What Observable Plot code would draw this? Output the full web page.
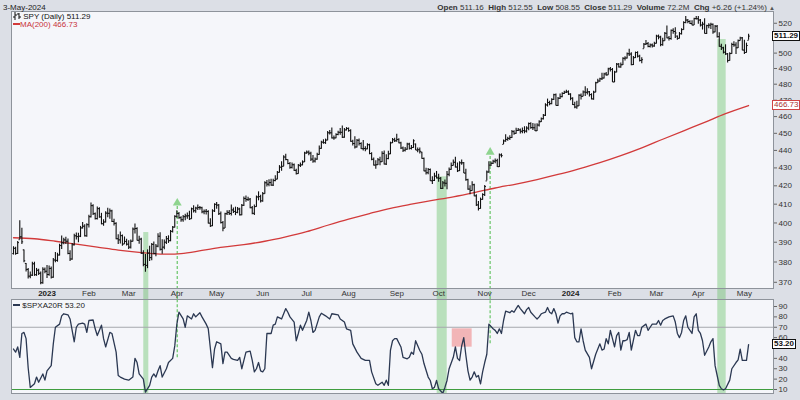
<!DOCTYPE html>
<html><head><meta charset="utf-8">
<script src="https://cdn.jsdelivr.net/npm/d3@7"></script>
<script src="https://cdn.jsdelivr.net/npm/@observablehq/plot@0.6"></script>
<style>
html,body{margin:0;padding:0;background:#dcdfe6;}
#wrap{position:relative;width:800px;height:400px;overflow:hidden;background:#dcdfe6;font-family:"Liberation Sans",Arial,sans-serif;color:#222;}
#wrap svg.p{position:absolute;left:0;overflow:visible;}
.t{position:absolute;white-space:nowrap;font-size:8px;line-height:9px;}
.box{position:absolute;font-size:8px;line-height:8px;height:8px;padding:0 1px;background:#fff;white-space:nowrap;}
</style></head><body><div id="wrap"></div><script>
// ---------- DATA ----------
// trading days per month, Dec 2022 (from the 8th) through 3-May-2024
const monthDays   = [16,20,19,23,19,22,21,20,23,20,22,21,20,21,20,20,22,3];
const monthLabels = ["","2023","Feb","Mar","Apr","May","Jun","Jul","Aug","Sep","Oct","Nov","Dec","2024","Feb","Mar","Apr","May"];

// SPY daily close (dividend-adjusted, log chart)
const closeVals = [
386.9,384.3,389.8,392.8,390.2,380.6,376.3,373.0,373.5,379.1,373.7,375.9,374.4,369.8,376.4,375.4,
373.8,376.8,372.5,381.0,380.8,383.5,388.3,389.7,391.2,390.5,384.3,381.5,388.7,393.3,392.9,393.1,397.4,398.3,393.3,399.1,
403.3,409.2,404.9,402.3,407.6,403.2,399.6,400.5,405.2,405.1,406.4,400.8,399.8,391.8,391.2,393.4,389.1,390.4,389.0,
387.5,390.5,396.8,397.1,391.0,391.6,384.4,378.8,378.3,384.5,382.2,388.9,384.3,388.0,393.1,386.4,387.5,390.0,391.8,390.8,395.6,397.8,403.5,
405.0,402.8,401.7,403.3,403.7,403.8,402.2,407.5,406.5,407.9,408.2,408.1,405.9,406.2,406.1,399.9,398.5,406.4,409.9,
409.5,404.9,400.2,397.3,404.9,405.6,405.0,406.9,406.1,405.6,407.4,404.3,409.4,413.1,412.5,412.7,408.1,405.1,408.7,413.9,414.1,411.8,
415.7,421.7,420.9,421.8,420.4,422.9,423.7,427.5,430.4,430.9,436.2,434.8,432.5,430.3,431.8,428.6,426.8,431.5,431.7,433.4,438.5,
439.0,438.4,435.0,433.9,435.0,437.7,441.2,444.8,444.5,446.0,450.3,450.3,447.3,447.3,449.3,450.6,450.6,447.7,452.0,452.9,
451.6,445.3,444.0,442.0,445.9,444.0,441.0,441.1,440.9,443.3,438.2,434.9,431.6,431.8,434.6,433.5,438.3,432.2,435.3,438.0,444.4,446.2,445.6,
446.4,444.4,441.4,440.1,440.7,443.7,441.2,441.7,445.6,440.2,440.4,439.5,435.4,428.3,427.3,429.1,422.8,423.0,425.4,424.4,
424.2,418.6,421.6,421.4,426.4,429.2,431.4,433.2,430.5,428.4,432.9,432.9,427.1,423.4,418.2,417.4,420.6,414.5,409.6,407.7,412.6,415.2,
419.6,427.7,431.6,432.6,433.8,434.1,430.7,437.4,437.0,445.5,446.4,447.0,447.5,451.0,450.0,451.7,452.0,451.2,451.6,451.3,453.1,
455.8,453.4,453.3,451.5,454.9,456.9,458.7,460.8,467.1,468.6,467.9,470.5,473.4,466.8,471.2,472.2,474.2,475.0,475.2,473.8,
471.2,467.3,465.8,466.5,473.1,472.4,475.1,474.9,475.2,473.5,470.8,475.0,480.9,482.0,483.4,483.9,486.5,485.9,489.8,489.4,481.4,
487.7,492.8,491.0,492.4,496.6,496.8,499.6,499.4,492.5,497.0,500.4,498.0,495.2,495.7,505.9,506.3,504.4,505.4,504.7,506.5,
511.3,510.7,505.6,508.2,513.2,510.1,509.7,515.2,514.4,513.4,509.8,512.9,515.7,520.5,522.2,521.2,519.8,518.8,523.2,523.1,
522.2,518.8,519.4,513.1,518.4,518.7,519.3,514.1,518.0,510.9,504.5,503.5,500.6,499.5,495.2,499.7,505.7,505.4,503.5,508.3,510.1,502.0,
500.4,505.0,511.29
];
// daily high above close
const hiOffs = [
0.8,3.2,0.6,8.3,7.0,5.5,3.0,3.8,1.5,0.8,6.2,0.9,2.0,5.2,0.7,1.6,
4.5,1.2,5.0,0.8,4.0,0.9,0.7,3.5,0.9,2.0,7.3,4.2,0.6,0.8,1.9,1.5,0.8,2.0,5.8,0.5,
0.8,1.4,4.8,3.0,0.9,4.9,5.5,1.2,0.7,2.7,1.0,6.0,2.2,8.3,2.6,1.9,4.6,2.3,2.5,
3.2,0.7,0.5,2.3,6.5,1.5,7.6,6.8,5.5,1.6,5.8,0.5,5.8,0.9,1.3,8.5,3.8,1.1,1.2,2.5,0.5,0.4,0.3,
1.5,2.8,1.6,0.6,0.9,1.5,4.0,0.4,2.6,0.5,1.3,0.7,2.5,0.7,1.0,6.6,3.7,0.6,0.3,
1.4,4.9,5.6,3.5,0.3,0.9,1.6,2.6,1.8,2.8,0.8,3.5,0.4,0.8,1.9,1.0,5.0,3.6,0.9,0.5,2.6,3.0,
0.7,0.5,2.0,1.6,3.3,0.8,1.9,0.5,0.9,2.6,0.7,3.0,2.2,2.8,1.0,3.6,2.5,0.4,1.1,0.6,0.4,
0.6,1.3,3.9,3.2,0.7,0.6,1.3,0.5,1.7,0.6,0.8,1.4,5.8,1.1,0.5,0.6,2.3,6.7,0.9,0.5,
1.6,6.8,1.9,6.0,0.5,2.6,3.4,4.6,1.2,0.6,5.4,3.8,4.0,2.3,0.7,2.6,1.0,7.5,2.2,1.5,0.4,0.7,1.5,
3.0,2.4,3.3,1.9,1.0,0.5,3.0,1.1,0.6,3.5,1.0,1.9,3.6,7.3,2.5,0.6,6.6,2.0,1.6,3.6,
2.3,6.0,0.8,1.8,1.6,0.7,1.4,1.3,5.5,4.4,0.6,1.6,6.0,5.8,5.5,2.6,1.6,6.4,5.5,3.8,0.7,0.5,
0.6,0.5,1.9,0.7,0.6,0.9,4.2,0.5,1.0,0.6,2.8,0.7,1.0,0.7,1.5,1.3,0.8,1.4,1.6,2.6,0.8,
0.4,2.9,2.6,4.0,0.8,0.6,0.5,0.5,0.7,2.1,1.5,0.4,0.3,7.1,0.5,1.6,0.4,0.6,1.0,2.0,
2.8,4.3,2.9,2.8,0.3,1.5,0.6,3.5,1.9,1.9,3.2,0.5,0.4,1.1,0.4,3.0,0.5,1.6,0.3,1.3,8.6,
0.5,0.4,2.3,1.1,0.3,0.8,0.5,3.2,7.8,0.8,0.3,2.9,3.4,1.2,0.5,2.1,2.7,0.6,1.3,0.7,
0.5,1.3,5.6,1.6,0.5,8.0,1.3,0.3,1.8,3.6,1.5,0.8,0.5,0.6,2.4,1.4,1.9,2.9,0.3,1.5,
2.4,3.7,1.3,10.0,0.3,1.0,0.7,5.4,0.4,7.5,9.0,2.4,3.2,6.0,4.5,0.5,0.8,2.1,3.3,0.4,0.4,8.4,
8.2,1.6,1.3
];
// daily low below close
const loOffs = [
3.4,0.9,6.0,1.5,1.3,1.0,1.2,1.4,1.8,6.3,0.8,3.0,1.1,1.0,7.4,1.2,
2.0,3.8,0.9,9.0,1.2,3.6,5.3,3.4,2.5,1.6,0.6,1.3,7.8,5.2,1.7,3.4,5.0,1.5,0.6,6.5,
6.0,6.6,0.9,0.8,6.1,0.7,0.6,2.2,5.2,2.3,4.4,0.6,1.4,0.5,2.3,4.3,1.2,1.5,0.9,
1.2,4.0,6.7,2.8,0.4,2.6,0.6,1.2,3.4,7.8,1.9,8.3,0.6,5.4,5.9,0.9,3.6,3.8,3.0,1.4,5.4,3.0,6.2,
2.5,0.8,1.3,2.9,2.6,1.8,0.9,5.6,1.2,2.8,1.6,1.4,1.0,1.8,1.9,0.5,0.9,8.3,4.4,
2.2,0.9,0.8,1.9,7.8,1.6,1.0,3.2,1.1,1.7,2.5,0.6,5.6,4.3,1.4,1.3,0.5,0.8,4.8,5.6,2.3,1.2,
4.6,6.3,1.6,2.3,0.6,3.3,1.5,4.2,3.3,2.8,5.6,0.7,0.7,1.1,2.4,0.6,0.8,5.1,1.5,2.2,5.5,
1.2,1.5,1.4,1.3,2.2,3.4,4.0,4.1,0.9,2.5,4.7,1.3,0.6,1.4,2.5,2.0,1.7,0.7,4.9,1.5,
1.0,0.6,1.5,1.2,4.5,1.5,0.5,1.5,1.6,2.9,0.7,0.8,0.5,2.6,3.2,2.3,5.3,0.6,4.0,3.4,6.8,2.2,1.0,
1.6,0.6,0.8,1.3,1.6,3.6,0.9,1.5,4.4,0.3,1.7,1.6,0.5,0.4,1.3,3.0,0.4,2.3,3.0,0.6,
2.2,0.6,3.6,2.0,8.5,4.2,2.7,2.1,0.5,1.0,4.9,1.4,0.3,0.9,0.6,2.3,3.6,0.5,0.9,1.4,5.3,3.1,
5.4,5.0,4.6,1.8,1.9,1.7,0.5,7.2,1.3,2.0,1.6,1.6,1.8,4.1,1.2,2.3,0.9,1.6,1.8,1.6,2.9,
4.3,1.0,1.6,0.5,3.9,3.2,2.3,2.8,7.0,2.8,1.3,3.3,3.5,0.3,5.0,1.7,2.6,1.5,1.1,0.9,
1.5,0.6,1.0,2.1,7.0,2.2,3.0,2.6,2.0,1.5,0.6,5.0,6.3,1.6,2.1,1.5,3.2,0.9,4.2,1.6,0.3,
6.7,5.5,0.7,2.3,4.6,1.9,3.4,1.6,0.8,5.0,3.9,1.2,1.0,2.6,3.0,1.3,0.8,2.0,1.4,2.6,
5.3,1.9,1.4,3.7,5.4,0.5,1.7,6.7,1.8,3.7,1.2,3.5,3.6,5.3,2.5,1.5,0.7,0.5,4.7,0.9,
2.8,1.3,4.0,0.3,6.0,2.5,3.6,1.6,4.5,0.8,0.6,1.7,1.2,1.0,1.7,5.0,6.5,1.6,4.4,5.3,2.1,0.5,
1.3,5.0,2.8
];
const prevClose0 = 384.2;

// MA(200), read at trading-day positions
const maDay = [0,10,20,30,40,50,60,70,80,90,100,110,120,130,140,150,160,170,180,190,200,210,220,230,240,250,260,270,280,290,300,310,320,330,340,351];
const maVal = [392.3,391.8,390.5,389.0,387.5,386.0,384.8,384.0,384.2,385.8,387.5,388.8,390.5,392.8,395.5,398.8,402.0,405.0,407.8,410.0,412.0,414.0,416.3,418.8,421.0,423.5,426.3,429.5,433.0,437.0,441.5,446.5,451.5,456.5,461.8,466.73];

// $SPXA20R, read at trading-day positions
const spxDay = [0,1,2,3,4,5,6,7,8,10,11,12,14,15,16,18,19,20,22,23,24,26,27,29,30,31,33,34,35,36,38,39,40,42,43,44,46,47,49,50,51,53,55,57,58,59,60,62,63,65,66,67,68,69,70,71,73,74,76,77,78,79,81,82,83,85,86,87,89,90,92,93,95,96,97,99,100,101,102,104,105,107,108,109,110,111,113,114,115,116,117,118,119,120,121,123,124,125,126,128,129,130,131,132,134,135,136,137,138,140,141,142,143,144,146,147,149,151,152,155,156,158,159,161,162,164,166,168,170,171,173,174,176,177,178,179,180,181,182,183,185,186,188,189,190,191,192,194,195,196,198,199,200,201,202,203,205,206,207,208,210,211,212,213,214,215,216,217,218,219,220,221,222,223,224,225,226,227,229,230,231,232,233,234,235,237,238,239,240,241,242,244,245,246,247,249,250,251,252,254,255,256,257,258,259,260,261,262,263,264,266,267,268,269,270,271,272,273,275,276,278,280,281,282,283,284,285,286,287,288,289,290,291,292,293,294,295,297,298,299,300,302,303,304,305,307,308,309,310,311,313,315,316,317,318,319,320,321,322,324,325,326,327,328,329,330,332,333,334,335,336,337,338,339,340,342,343,345,346,347,348,350,351];
const spxVal = [49,46,51,41,64,65,59,31,12,15.5,22,17,25,19,28,33,54,70,73,81,83,82,78,56,70,73,74,73,65,76.5,77,68.5,62,72,59,51,65,64,46,23.5,22,20,19,22,40,36,25,20,7.4,14,22,25,22,28,33,22,30,36,40,52,73,84.5,78,70,81,78,83,80,84,80,73,68.5,31,49,56,54,35,46,46,40,39,38,41,30,38,46,47,38,27,30,36,28,27,30,64,64,72,73,80,78,83,88,84.5,80,75,57,64,72,67,76.5,84.5,76.5,65,67,80,83.5,81,78,83,82,78,75,68.5,67,54,46,40,38,38,27,15.5,14,17,14,19,14,48,57,59,59,51,41,39.6,41,46,44,57,47.6,44,35,22,18.7,10.7,12,18.7,10.7,6.4,12,18.7,30,41,51,40,38,52,60,43,28,19,22,27,22,23.5,15.5,27,36,44,73,68.5,67,64,68.5,64,76.5,85.5,84,86,84.5,88,91,88,83,87,89,84.5,80,78,80,83,84.5,89,84.5,83,88,83,74,81,83,83,84.5,83,83.5,60,56,56,68.5,57,48,41,30,44,54,48,49,59,54,67,59,51,62,65,48,57,57,58,65,48,67,62,62,70,73,67,70,73,73,76.5,72,76.5,78,80,81,75,64,60,65,76.5,81,70,64,80,83,67,64,57,43,51,56,59,33,23.5,14,10.7,9.7,10.7,19,30,36,38.6,49,38,38,53.2];

// annotations (trading-day positions)
const bandStart = [62.2, 202.3, 336.3];
const bandEnd   = [64.6, 207.1, 340.3];
const bandTop   = [395.0, 425.0, 509.0];     // price where the green band starts in the upper panel
const arrowDay  = [78.2, 227.6];
const arrowFrom = [40.6, 54.0];              // $SPXA20R value where the dashed arrow starts
const arrowTo   = [410.6, 439.0];            // SPY price of the arrow head
const redBoxDay = [209.5, 219.0];
const redBoxVal = [50.8, 68.5];

// tick labels (510 and 50 sit under the last-value boxes, as in the reference)
const priceTicks = [370,380,390,400,410,420,430,440,450,460,470,480,490,500,520];
const indTicks = [10,20,30,40,60,70,80,90];

// ---------- BUILD ----------
const N = closeVals.length;
if (hiOffs.length !== N || loOffs.length !== N || d3.sum(monthDays) !== N) throw new Error("length mismatch " + [N, hiOffs.length, loOffs.length, d3.sum(monthDays)]);

const days = closeVals.map((c, i) => {
  const h = c + hiOffs[i], l = c - loOffs[i];
  const p = i ? closeVals[i - 1] : prevClose0;
  return {i, c, h, l, o: Math.max(l, Math.min(h, p))};
});
const ma = maDay.map((d, k) => ({i: d, v: maVal[k]}));
const spx = spxDay.map((d, k) => ({i: d, v: spxVal[k]}));
const bands = bandStart.map((s, k) => ({a: s, b: bandEnd[k], top: bandTop[k]}));
const arrows = arrowDay.map((d, k) => ({i: d, from: arrowFrom[k], to: arrowTo[k]}));
let acc = 0;
const months = monthDays.map((n, k) => { const m = {i: acc, label: monthLabels[k], year: /^\d{4}$/.test(monthLabels[k])}; acc += n; return m; }).filter(m => m.label);

const XDOM = [-0.96, 362.9];
const TOPDOM = [367.0, 528.1], BELOW = 361.7;
const INDDOM = [6.14, 96.75];
const FRAME_FILL = "#f5f6fa", FRAME_STROKE = "#8e939b";
const GREEN = "#66c266", DASH = "#7ccc7c";
const FONT = "Liberation Sans, Arial, sans-serif";

const topPlot = Plot.plot({
  width: 800, height: 299,
  marginLeft: 11, marginRight: 27, marginTop: 11, marginBottom: 11,
  style: {background: "transparent", fontFamily: FONT, fontSize: "8px", color: "#333", overflow: "visible"},
  x: {type: "linear", domain: XDOM, axis: null},
  y: {type: "log", domain: TOPDOM, axis: null},
  marks: [
    Plot.frame({fill: FRAME_FILL}),
    Plot.rect(bands, {x1: "a", x2: "b", y1: BELOW, y2: "top", fill: GREEN, fillOpacity: 0.42}),
    Plot.ruleX(arrows, {x: "i", y1: BELOW, y2: "to", stroke: DASH, strokeWidth: 1.4, strokeDasharray: "3,2"}),
    Plot.dot(arrows, {x: "i", y: "to", symbol: "triangle", r: 3.3, fill: "#8fd48f", stroke: "none"}),
    Plot.line(ma, {x: "i", y: "v", stroke: "#d23a3a", strokeWidth: 1.3, curve: "catmull-rom"}),
    Plot.ruleX(days, {x: "i", y1: "l", y2: "h", stroke: "#111", strokeWidth: 1.1}),
    Plot.link(days, {x1: d => d.i - 0.6, x2: "i", y1: "o", y2: "o", stroke: "#111", strokeWidth: 1}),
    Plot.link(days, {x1: "i", x2: d => d.i + 0.6, y1: "c", y2: "c", stroke: "#111", strokeWidth: 1}),
    Plot.axisY({anchor: "right", ticks: priceTicks, tickFormat: d3.format("d"), tickSize: 3, tickPadding: 2, stroke: "#666", fill: "#333", fontSize: 8}),
    Plot.text(months.filter(m => !m.year), {x: "i", text: "label", frameAnchor: "bottom", dy: 7, fill: "#333", fontSize: 8}),
    Plot.text(months.filter(m => m.year), {x: "i", text: "label", frameAnchor: "bottom", dy: 7, fill: "#222", fontSize: 8, fontWeight: "bold"}),
    Plot.frame({stroke: FRAME_STROKE})
  ]
});
topPlot.classList.add("p");
topPlot.style.top = "0px";

const botPlot = Plot.plot({
  width: 800, height: 101,
  marginLeft: 11, marginRight: 27, marginTop: 0, marginBottom: 7,
  style: {background: "transparent", fontFamily: FONT, fontSize: "8px", color: "#333", overflow: "visible"},
  x: {type: "linear", domain: XDOM, axis: null},
  y: {type: "linear", domain: INDDOM, axis: null},
  marks: [
    Plot.frame({fill: FRAME_FILL}),
    Plot.rect(bands, {x1: "a", x2: "b", y1: INDDOM[0], y2: INDDOM[1], fill: GREEN, fillOpacity: 0.42}),
    Plot.rect([0], {x1: redBoxDay[0], x2: redBoxDay[1], y1: redBoxVal[0], y2: redBoxVal[1], fill: "#f08a8a", fillOpacity: 0.6}),
    Plot.ruleY([70], {stroke: "#a5a8ad", strokeWidth: 1}),
    Plot.ruleY([10], {stroke: "#3f9d3f", strokeWidth: 1.2}),
    Plot.ruleX(arrows, {x: "i", y1: "from", y2: INDDOM[1], stroke: DASH, strokeWidth: 1.4, strokeDasharray: "3,2"}),
    Plot.line(spx, {x: "i", y: "v", stroke: "#2b3852", strokeWidth: 1.3}),
    Plot.axisY({anchor: "right", ticks: indTicks, tickFormat: d3.format("d"), tickSize: 3, tickPadding: 2, stroke: "#666", fill: "#333", fontSize: 8}),
    Plot.frame({stroke: FRAME_STROKE})
  ]
});
botPlot.classList.add("p");
botPlot.style.top = "299px";

const wrap = document.getElementById("wrap");
wrap.appendChild(topPlot);
wrap.appendChild(botPlot);

function addDiv(cls, css, html) {
  const d = document.createElement("div");
  d.className = cls; d.style.cssText = css; d.innerHTML = html;
  wrap.appendChild(d); return d;
}
const yTop = topPlot.scale("y"), yBot = botPlot.scale("y");
const lastClose = closeVals[N - 1], lastMA = maVal[maVal.length - 1], lastInd = spxVal[spxVal.length - 1];

// header texts
addDiv("t", "left:3px;top:-7px;color:#666;", "SPY SPDR S&amp;P 500 ETF NYSE + Mkt");
addDiv("t", "left:3px;top:3px;color:#222;", d3.timeFormat("%-d-%b-%Y")(new Date(2024, 4, 3)));
addDiv("t", "right:25px;top:3px;color:#333;",
  "<b>Open</b> 511.16 &nbsp;<b>High</b> 512.55 &nbsp;<b>Low</b> 508.55 &nbsp;<b>Close</b> " + lastClose.toFixed(2) +
  " &nbsp;<b>Volume</b> 72.2M &nbsp;<b>Chg</b> +6.26 (+1.24%) <span style='font-size:6px;color:#555'>▲</span>");

// legends
addDiv("t", "left:13px;top:12px;color:#111;",
  "<svg width='8' height='8' style='vertical-align:-1px'><path d='M2 0V8M0 5H2M2 3H4M6 1V7M4 2H6M6 5H8' stroke='#111' fill='none'/></svg> SPY (Daily) " + lastClose.toFixed(2));
addDiv("t", "left:13px;top:20px;color:#c8323a;", "<span style='display:inline-block;width:7px;border-top:2px solid #d23a3a;vertical-align:2px'></span>MA(200) " + lastMA.toFixed(2));
addDiv("t", "left:13px;top:301px;color:#222;", "<span style='display:inline-block;width:7px;border-top:2px solid #2b3852;vertical-align:2px'></span> $SPXA20R " + lastInd.toFixed(2));

// value boxes on the right axis
addDiv("box", `left:772px;top:${yTop.apply(lastClose) - 5}px;border:1px solid #111;font-weight:bold;color:#111;`, lastClose.toFixed(2));
addDiv("box", `left:772px;top:${yTop.apply(lastMA) - 5}px;border:1px solid #d04444;color:#a33;`, lastMA.toFixed(2));
addDiv("box", `left:772px;top:${299 + yBot.apply(lastInd) - 5}px;border:1px solid #111;font-weight:bold;color:#111;`, lastInd.toFixed(2));
</script></body></html>
